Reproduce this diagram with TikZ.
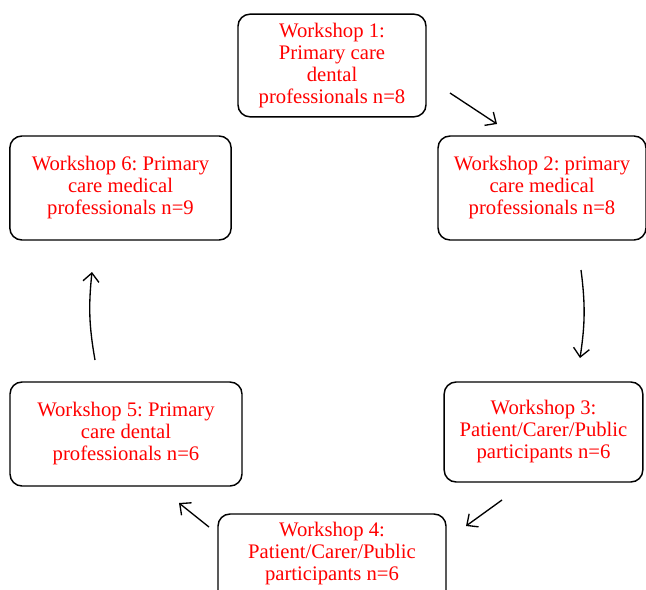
\documentclass[tikz,border=0pt]{standalone}
\usepackage{fontspec}
\setmainfont{Liberation Serif}
\frenchspacing
\usetikzlibrary{arrows.meta}

\begin{document}
\begin{tikzpicture}[x=0.75pt, y=-0.75pt, line width=1.1pt,
    every node/.style={draw, rounded corners=9pt, align=center, text=red,
        font=\fontsize{15.5}{16.5}\selectfont, inner sep=2pt},
    flow/.style={-{Straight Barb[length=6.5pt, width=12pt]}, line width=1pt}]
                \useasboundingbox (0,0) rectangle (646,589);
                \node[minimum width=141pt, minimum height=77pt] (w1) at (332,65.5) {Workshop 1:\\Primary care\\dental\\professionals n=8};
                \node[minimum width=156pt, minimum height=78pt] (w2) at (542,188) {Workshop 2: primary\\care medical\\professionals n=8};
                \node[minimum width=149pt, minimum height=75pt] (w3) at (543.5,432) {Workshop 3:\\Patient/Carer/Public\\participants n=6};
                \node[minimum width=171pt, minimum height=78pt] (w4) at (332,566) {Workshop 4:\\Patient/Carer/Public\\participants n=6\\ \strut};
                \node[minimum width=174pt, minimum height=78pt] (w5) at (126,434) {Workshop 5: Primary\\care dental\\professionals n=6};
                \node[minimum width=166pt, minimum height=78pt] (w6) at (120.5,188) {Workshop 6: Primary\\care medical\\professionals n=9};
                \coordinate (a1) at (450,93);
                \coordinate (b1) at (497,124);
                \coordinate (a2) at (581,270);
                \coordinate (b2) at (580,358);
                \coordinate (a3) at (502,500);
                \coordinate (b3) at (466,526);
                \coordinate (a4) at (209,527);
                \coordinate (b4) at (179,503);
                \coordinate (a5) at (95,360);
                \coordinate (b5) at (92,272);
                \draw[flow] (a1) -- (b1);
                \draw[flow] (a2) to[bend left=8] (b2);
                \draw[flow] (a3) -- (b3);
                \draw[flow] (a4) -- (b4);
                \draw[flow] (a5) to[bend left=8] (b5);
                \end{tikzpicture}
\end{document}
